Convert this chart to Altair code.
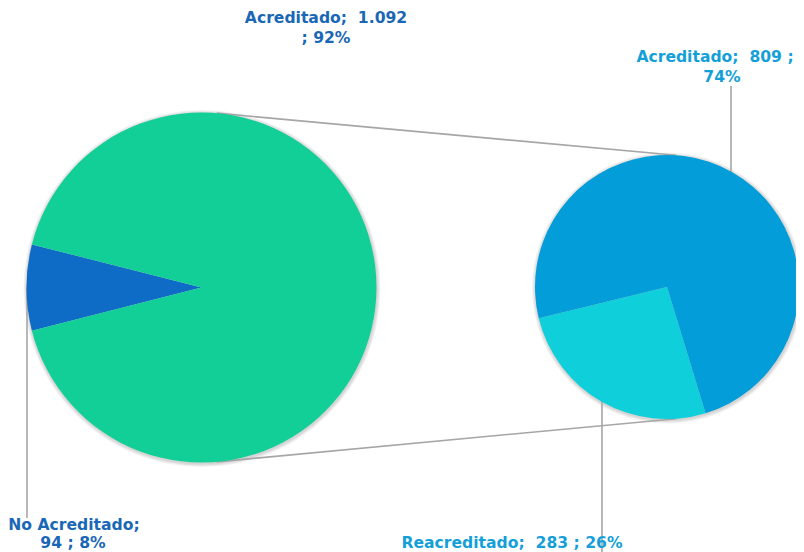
import math
import altair as alt
import pandas as pd

# ---------------- data ----------------
left_cats = ["No Acreditado", "Acreditado"]
left_vals = [94, 1092]
left_colors = ["#0F6CC6", "#12CF98"]

right_cats = ["Reacreditado", "Acreditado"]
right_vals = [283, 809]
right_colors = ["#0ECFDA", "#039DD9"]

label_color_left = "#1A67B5"
label_color_right = "#159FD9"

# ---------------- layout (chart coordinates) ----------------
W, H = 788, 544
LCX, LCY, LR = 193.5, 279.5, 175
RCX, RCY, RR = 659, 279, 132
left_total = sum(left_vals)
right_total = sum(right_vals)
left_start = 270 - 0.5 * 360 * left_vals[0] / left_total
right_start = 163
SP = "\u00a0"  # non-breaking space, keeps double spaces


def fmt(v):
    return f"{v:,}".replace(",", ".")


def pct(v, t):
    return f"{round(100 * v / t)}%"


def edge(cx, cy, r, deg):
    a = math.radians(deg)
    return cx + r * math.sin(a), cy - r * math.cos(a)


def pie(cats, vals, colors, cx, cy, r, start_deg):
    df = pd.DataFrame({"cat": cats, "value": vals, "color": colors,
                       "ord": list(range(len(cats)))})
    s = math.radians(start_deg)
    return alt.Chart(df).mark_arc(radius=r, strokeWidth=0).encode(
        theta=alt.Theta("value:Q",
                        scale=alt.Scale(domain=[0, sum(vals)], range=[s, s + 2 * math.pi], nice=False)),
        color=alt.Color("color:N", scale=None),
        order=alt.Order("ord:Q"),
        x=alt.value(cx),
        y=alt.value(cy),
        tooltip=["cat:N", "value:Q"],
    )


one_row = pd.DataFrame({"k": [0]})


def shadow(cx, cy, r):
    rings = []
    for k in (1, 2, 3, 4):
        rings.append(alt.Chart(one_row).mark_arc(
            radius=r + k * 0.9, theta=0, theta2=2 * math.pi,
            color="#000000", opacity=0.045, strokeWidth=0,
        ).encode(x=alt.value(cx + 0.5), y=alt.value(cy + 1.0)))
    return rings


# connector and leader lines
lt = edge(LCX, LCY, LR, 5)
rt = edge(RCX, RCY, RR, 4)
lb = edge(LCX, LCY, LR, 175)
rb = edge(RCX, RCY, RR, 176)
lead_top_x = 723
lead_bot_x = 594
lead_left_x = 19
lines_df = pd.DataFrame([
    {"x": lt[0], "y": lt[1], "x2": rt[0], "y2": rt[1]},
    {"x": lb[0], "y": lb[1], "x2": rb[0], "y2": rb[1]},
    {"x": lead_top_x, "y": 78, "x2": lead_top_x, "y2": RCY},
    {"x": lead_bot_x, "y": RCY, "x2": lead_bot_x, "y2": 546},
    {"x": lead_left_x, "y": LCY, "x2": lead_left_x, "y2": 510},
])
lines = alt.Chart(lines_df).mark_rule(color="#A6A6A6", strokeWidth=1.6).encode(
    x=alt.X("x:Q", scale=None), y=alt.Y("y:Q", scale=None),
    x2="x2:Q", y2="y2:Q",
)

# labels
labels_df = pd.DataFrame([
    {"x": 318, "y": 9.5, "text": f"{left_cats[1]};{SP}{SP}{fmt(left_vals[1])}", "color": label_color_left},
    {"x": 318, "y": 29.5, "text": f";{SP}{pct(left_vals[1], left_total)}", "color": label_color_left},
    {"x": 66, "y": 517, "text": f"{left_cats[0]};", "color": label_color_left},
    {"x": 65, "y": 534.5, "text": f"{fmt(left_vals[0])}{SP};{SP}{pct(left_vals[0], left_total)}",
     "color": label_color_left},
    {"x": 707, "y": 49, "text": f"{right_cats[1]};{SP}{SP}{fmt(right_vals[1])}{SP};", "color": label_color_right},
    {"x": 714, "y": 69, "text": f"{pct(right_vals[1], right_total)}", "color": label_color_right},
    {"x": 504, "y": 535,
     "text": f"{right_cats[0]};{SP}{SP}{fmt(right_vals[0])}{SP};{SP}{pct(right_vals[0], right_total)}",
     "color": label_color_right},
])
labels = alt.Chart(labels_df).mark_text(font="DejaVu Sans", fontWeight="bold", fontSize=15.6,
                                        align="center", baseline="middle").encode(
    x=alt.X("x:Q", scale=None), y=alt.Y("y:Q", scale=None),
    text="text:N", color=alt.Color("color:N", scale=None),
)

left_pie = pie(left_cats, left_vals, left_colors, LCX, LCY, LR, left_start)
right_pie = pie(right_cats, right_vals, right_colors, RCX, RCY, RR, right_start)

layers = shadow(LCX, LCY, LR) + shadow(RCX, RCY, RR) + [lines, left_pie, right_pie, labels]

chart = alt.layer(*layers).resolve_scale(
    theta="independent"
).properties(
    width=W, height=H, autosize=alt.AutoSizeParams(type="none"), padding=0,
    background="white",
).configure_view(strokeWidth=0)

chart.save("out.html", embed_options={"renderer": "svg", "actions": False})
